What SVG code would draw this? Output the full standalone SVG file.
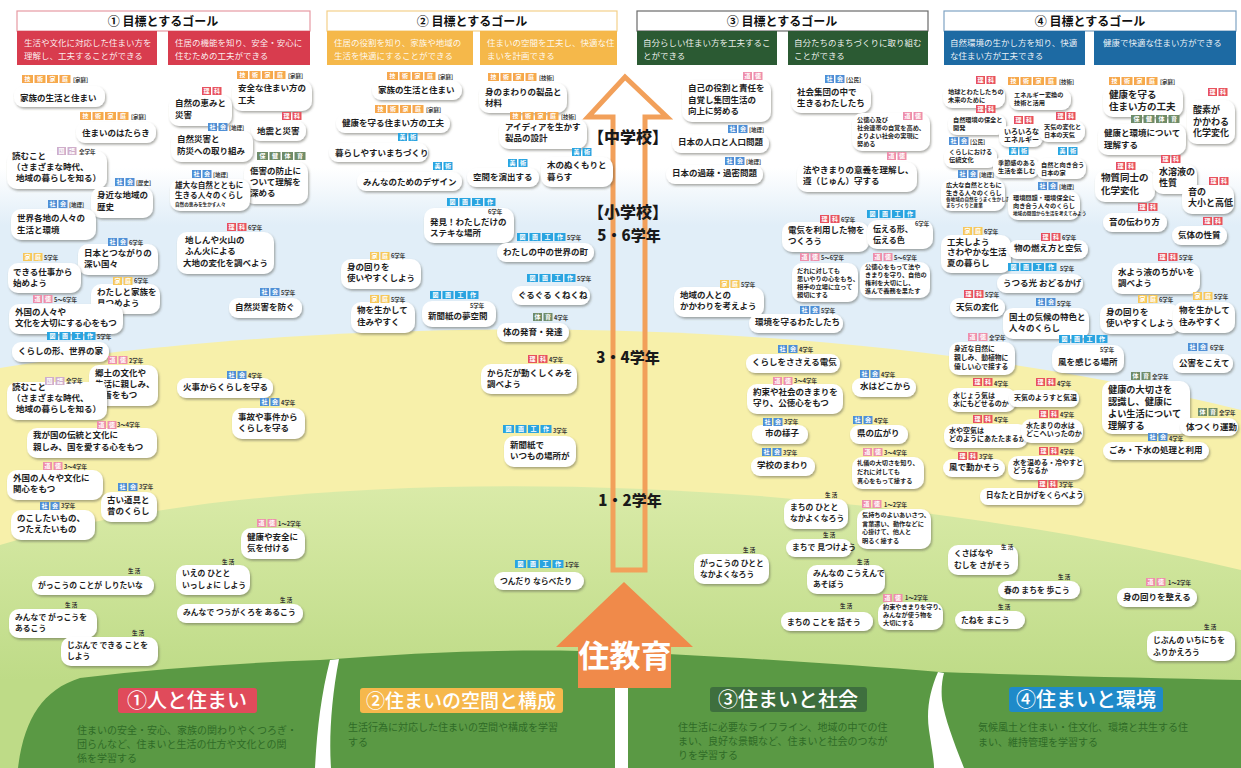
<svg xmlns="http://www.w3.org/2000/svg" width="1241" height="768" viewBox="0 0 1241 768">
<defs>
<style>
text{font-family:"Noto Sans CJK JP","Noto Sans CJK SC",sans-serif}
.c{fill:#fff;filter:url(#sh)}
.t{font-weight:700;font-size:8.5px;fill:#1e1e1e}
.e{font-weight:700;font-size:7.8px;fill:#1e1e1e}
.m{font-weight:700;font-size:6.2px;fill:#1e1e1e}
.m7{font-weight:700;font-size:7px;fill:#1e1e1e}
.x{font-weight:700;font-size:4.6px;fill:#1e1e1e}
.g{font-weight:700;font-size:5.5px;fill:#333}
.q{font-weight:700;font-size:6px;fill:#fff;text-anchor:middle}
.hd{font-weight:700;font-size:12px;fill:#111;text-anchor:middle}
.hb{font-size:8.5px;fill:#fff;fill-opacity:.92}
.gr{font-weight:900;font-size:16px;fill:#1a1a1a;text-anchor:middle}
.ds{font-size:10px;fill:#2f6b27}
.lb{font-weight:500;font-size:20px;fill:#fff;text-anchor:middle}
</style>
<filter id="sh" x="-15%" y="-25%" width="135%" height="170%"><feDropShadow dx="1.2" dy="1.8" stdDeviation="1.1" flood-color="#4a4a40" flood-opacity=".45"/></filter>
<linearGradient id="sky" x1="0" y1="168" x2="0" y2="225" gradientUnits="userSpaceOnUse"><stop offset="0" stop-color="#ffffff"/><stop offset="1" stop-color="#e1eef8"/></linearGradient>
<linearGradient id="lg" x1="0" y1="470" x2="0" y2="680" gradientUnits="userSpaceOnUse"><stop offset="0" stop-color="#dcecab"/><stop offset="1" stop-color="#bedb87"/></linearGradient>
<g id="ri2"><rect width="9" height="8" fill="#e8525e"/><rect x="10.5" width="9" height="8" fill="#e8525e"/><text class="q" x="4.5" y="6.3">理</text><text class="q" x="15" y="6.3">科</text></g>
<g id="sh2"><rect width="9" height="8" fill="#4f8fd6"/><rect x="10.5" width="9" height="8" fill="#4f8fd6"/><text class="q" x="4.5" y="6.3">社</text><text class="q" x="15" y="6.3">会</text></g>
<g id="zk2"><rect width="9" height="8" fill="#2aa4e0"/><rect x="10.5" width="9" height="8" fill="#2aa4e0"/><text class="q" x="4.5" y="6.3">美</text><text class="q" x="15" y="6.3">術</text></g>
<g id="dt2"><rect width="9" height="8" fill="#ee8fab"/><rect x="10.5" width="9" height="8" fill="#ee8fab"/><text class="q" x="4.5" y="6.3">道</text><text class="q" x="15" y="6.3">徳</text></g>
<g id="kk2"><rect width="9" height="8" fill="#cfaecb"/><rect x="10.5" width="9" height="8" fill="#cfaecb"/><text class="q" x="4.5" y="6.3">国</text><text class="q" x="15" y="6.3">語</text></g>
<g id="ka2"><rect width="9" height="8" fill="#f7c85a"/><rect x="10.5" width="9" height="8" fill="#f7c85a"/><text class="q" x="4.5" y="6.3">家</text><text class="q" x="15" y="6.3">庭</text></g>
<g id="hk2"><rect width="9" height="8" fill="#6f8c68"/><rect x="10.5" width="9" height="8" fill="#6f8c68"/><text class="q" x="4.5" y="6.3">体</text><text class="q" x="15" y="6.3">育</text></g>
<g id="gk4"><rect width="11" height="8" fill="#f6a84c"/><rect x="12.5" width="11" height="8" fill="#f6a84c"/><rect x="25" width="11" height="8" fill="#f6a84c"/><rect x="37.5" width="11" height="8" fill="#f6a84c"/><text class="q" x="5.5" y="6.3">技</text><text class="q" x="18" y="6.3">術</text><text class="q" x="30.5" y="6.3">家</text><text class="q" x="43" y="6.3">庭</text></g>
<g id="zk4"><rect width="11" height="8" fill="#2aa4e0"/><rect x="12.5" width="11" height="8" fill="#2aa4e0"/><rect x="25" width="11" height="8" fill="#2aa4e0"/><rect x="37.5" width="11" height="8" fill="#2aa4e0"/><text class="q" x="5.5" y="6.3">図</text><text class="q" x="18" y="6.3">画</text><text class="q" x="30.5" y="6.3">工</text><text class="q" x="43" y="6.3">作</text></g>
<g id="hk4"><rect width="11" height="8" fill="#6f8c68"/><rect x="12.5" width="11" height="8" fill="#6f8c68"/><rect x="25" width="11" height="8" fill="#6f8c68"/><rect x="37.5" width="11" height="8" fill="#6f8c68"/><text class="q" x="5.5" y="6.3">保</text><text class="q" x="18" y="6.3">健</text><text class="q" x="30.5" y="6.3">体</text><text class="q" x="43" y="6.3">育</text></g>
</defs>

<g id="background">
<rect width="1241" height="768" fill="url(#sky)"/>
<path d="M0,368 C300,320 800,300 1241,410 L1241,768 L0,768 Z" fill="#f7f0aa"/>
<path d="M0,545 C250,470 750,455 1241,570 L1241,768 L0,768 Z" fill="url(#lg)"/>
<path d="M18,768 C24,720 42,690 80,678 C160,668 240,663 320,660 C420,652 520,648 620,652 C720,656 840,664 940,672 C1050,676 1150,678 1241,680 L1241,768 Z" fill="#5a9944"/>
<path d="M330,660 L339,659 C331,700 329,740 331,768 L315,768 C317,730 321,695 330,660 Z" fill="#fff"/>
<rect x="615" y="686" width="13" height="82" fill="#fff"/>
<path d="M938,672 C930,690 926,710 929,730 C932,750 934,760 934,768 L964,768 C955,745 945,720 942,700 C941,690 942,680 944,673 Z" fill="#fff"/>
</g>

<g id="arrows">
<path d="M625,77 L667,117 L645,117 L645,570 L613,570 L613,117 L588,117 Z" fill="none" stroke="#f2a05a" stroke-width="5"/>
<path d="M624,582 L693,647 L671,647 L671,688 L578,688 L578,647 L556,647 Z" fill="#f08a4a"/>
<text x="625" y="667" style="font-weight:700;font-size:31px;fill:#fff;text-anchor:middle">住教育</text>
<text class="gr" x="628" y="143">【中学校】</text>
<text class="gr" x="628" y="218">【小学校】</text>
<text class="gr" x="629" y="241" style="font-size:15px">5・6学年</text>
<text class="gr" x="628" y="363" style="font-size:15px">3・4学年</text>
<text class="gr" x="630" y="506" style="font-size:15px">1・2学年</text>
</g>

<g id="goal1">
<rect x="17" y="11" width="293" height="20" fill="#fff" stroke="#e79aa3" stroke-width="1.2"/>
<text class="hd" x="163" y="26">① 目標とするゴール</text>
<rect x="17" y="31" width="140" height="34" fill="#d83c4e"/>
<rect x="168" y="31" width="142" height="34" fill="#d83c4e"/>
<text class="hb" x="24" y="46">生活や文化に対応した住まい方を<tspan x="24" y="59">理解し、工夫することができる</tspan></text>
<text class="hb" x="175" y="46">住居の機能を知り、安全・安心に<tspan x="175" y="59">住むための工夫ができる</tspan></text>
</g>
<g id="goal2">
<rect x="327" y="11" width="290" height="20" fill="#fff" stroke="#f3d08a" stroke-width="1.2"/>
<text class="hd" x="472" y="26">② 目標とするゴール</text>
<rect x="327" y="31" width="146" height="34" fill="#f5b84a"/>
<rect x="480" y="31" width="137" height="34" fill="#f5b84a"/>
<text class="hb" x="334" y="46">住居の役割を知り、家族や地域の<tspan x="334" y="59">生活を快適にすることができる</tspan></text>
<text class="hb" x="487" y="46">住まいの空間を工夫し、快適な住<tspan x="487" y="59">まいを計画できる</tspan></text>
</g>
<g id="goal3">
<rect x="637" y="11" width="291" height="20" fill="#fff" stroke="#6a6a6a" stroke-width="1.2"/>
<text class="hd" x="782" y="26">③ 目標とするゴール</text>
<rect x="637" y="31" width="140" height="34" fill="#2b5a33"/>
<rect x="788" y="31" width="140" height="34" fill="#2b5a33"/>
<text class="hb" x="643" y="46">自分らしい住まい方を工夫するこ<tspan x="643" y="59">とができる</tspan></text>
<text class="hb" x="794" y="46">自分たちのまちづくりに取り組む<tspan x="794" y="59">ことができる</tspan></text>
</g>
<g id="goal4">
<rect x="944" y="11" width="292" height="20" fill="#fff" stroke="#7fa3c4" stroke-width="1.2"/>
<text class="hd" x="1090" y="26">④ 目標とするゴール</text>
<rect x="944" y="31" width="141" height="34" fill="#1d6aa3"/>
<rect x="1094" y="31" width="142" height="34" fill="#1d6aa3"/>
<text class="hb" x="950" y="46">自然環境の生かし方を知り、快適<tspan x="950" y="59">な住まい方が工夫できる</tspan></text>
<text class="hb" x="1103" y="46">健康で快適な住まい方ができる</text>
</g>

<g id="cat1"><rect x="118" y="688" width="139" height="25" rx="3" fill="#e04b5b"/><text class="lb" x="187" y="708">①人と住まい</text><text class="ds" x="77" y="734">住まいの安全・安心、家族の関わりやくつろぎ・<tspan x="77" y="748">団らんなど、住まいと生活の仕方や文化との関</tspan><tspan x="77" y="762">係を学習する</tspan></text></g>
<g id="cat2"><rect x="360" y="688" width="203" height="25" rx="3" fill="#f6b84c"/><text class="lb" x="461" y="708" style="font-size:19px">②住まいの空間と構成</text><text class="ds" x="348" y="731">生活行為に対応した住まいの空間や構成を学習<tspan x="348" y="746">する</tspan></text></g>
<g id="cat3"><rect x="710" y="687" width="157" height="25" rx="3" fill="#3e6f3e"/><text class="lb" x="788" y="707">③住まいと社会</text><text class="ds" x="678" y="731">住生活に必要なライフライン、地域の中での住<tspan x="678" y="745">まい、良好な景観など、住まいと社会のつなが</tspan><tspan x="678" y="759">りを学習する</tspan></text></g>
<g id="cat4"><rect x="1009" y="687" width="154" height="25" rx="3" fill="#1f8ac9"/><text class="lb" x="1086" y="707">④住まいと環境</text><text class="ds" x="978" y="731">気候風土と住まい・住文化、環境と共生する住<tspan x="978" y="746">まい、維持管理を学習する</tspan></text></g>

<g id="nodes">
<g id="n1"><rect class="c" x="14" y="86" width="91" height="21" rx="9"/><use href="#gk4" x="22" y="75"/><text class="g" x="73" y="82">[家庭]</text><text class="t" x="20" y="101">家族の生活と住まい</text></g>
<g id="n2"><rect class="c" x="76" y="122" width="80" height="21" rx="9"/><use href="#gk4" x="80" y="112"/><text class="g" x="131" y="119">[家庭]</text><text class="t" x="82" y="136">住まいのはたらき</text></g>
<g id="n3"><rect class="c" x="7" y="151" width="100" height="38" rx="10"/><use href="#kk2" x="57" y="147"/><text class="g" x="79" y="154">全学年</text><text class="t" x="12" y="159">読むこと<tspan x="12" y="170">（さまざまな時代、</tspan><tspan x="16" y="181">地域の暮らしを知る）</tspan></text></g>
<g id="n4"><rect class="c" x="91" y="187" width="62" height="31" rx="10"/><use href="#sh2" x="115" y="178"/><text class="g" x="136" y="185">[歴史]</text><text class="t" x="97" y="198">身近な地域の<tspan x="97" y="210">歴史</tspan></text></g>
<g id="n5"><rect class="c" x="11" y="209" width="85" height="31" rx="10"/><use href="#sh2" x="48" y="200"/><text class="g" x="69" y="207">[地理]</text><text class="t" x="17" y="221">世界各地の人々の<tspan x="17" y="233">生活と環境</tspan></text></g>
<g id="n6"><rect class="c" x="78" y="244" width="80" height="31" rx="10"/><use href="#sh2" x="108" y="238"/><text class="g" x="129" y="245">6学年</text><text class="t" x="84" y="256">日本とつながりの<tspan x="84" y="267">深い国々</tspan></text></g>
<g id="n7"><rect class="c" x="232" y="80" width="80" height="31" rx="10"/><use href="#gk4" x="237" y="71"/><text class="g" x="288" y="78">[家庭]</text><text class="t" x="238" y="91">安全な住まい方の<tspan x="238" y="103">工夫</tspan></text></g>
<g id="n8"><rect class="c" x="169" y="95" width="63" height="31" rx="10"/><use href="#ri2" x="202" y="87"/><text class="t" x="175" y="106">自然の恵みと<tspan x="175" y="118">災害</tspan></text></g>
<g id="n9"><rect class="c" x="251" y="121" width="55" height="20" rx="9"/><use href="#ri2" x="282" y="112"/><text class="t" x="257" y="134">地震と災害</text></g>
<g id="n10"><rect class="c" x="171" y="131" width="82" height="31" rx="10"/><use href="#sh2" x="208" y="123"/><text class="g" x="229" y="130">[地理]</text><text class="t" x="177" y="142">自然災害と<tspan x="177" y="154">防災への取り組み</tspan></text></g>
<g id="n11"><rect class="c" x="244" y="162" width="64" height="42" rx="10"/><use href="#hk4" x="257" y="152"/><text class="t" x="250" y="174">傷害の防止に<tspan x="250" y="185">ついて理解を</tspan><tspan x="250" y="196">深める</tspan></text></g>
<g id="n12"><rect class="c" x="170" y="179" width="80" height="32" rx="10"/><use href="#sh2" x="192" y="170"/><text class="g" x="213" y="177">[地理]</text><text class="t" style="font-size:7.6px" x="175" y="188">雄大な自然とともに<tspan x="175" y="198">生きる人々のくらし</tspan></text><text class="x" x="175" y="206">自然の恵みを生かす人々</text></g>
<g id="n13"><rect class="c" x="177" y="232" width="97" height="42" rx="10"/><use href="#ri2" x="227" y="223"/><text class="g" x="248" y="230">6学年</text><text class="t" x="185" y="243">地しんや火山の<tspan x="185" y="254">ふん火による</tspan><tspan x="183" y="266">大地の変化を調べよう</tspan></text></g>
<g id="n14"><rect class="c" x="8" y="263" width="73" height="30" rx="10"/><use href="#ka2" x="23" y="253"/><text class="g" x="44" y="260">5学年</text><text class="t" x="13" y="275">できる仕事から<tspan x="13" y="286">始めよう</tspan></text></g>
<g id="n15"><rect class="c" x="91" y="284" width="69" height="30" rx="10"/><use href="#ka2" x="113" y="277"/><text class="g" x="134" y="283">6学年</text><text class="t" x="97" y="295">わたしと家族を<tspan x="97" y="306">見つめよう</tspan></text></g>
<g id="n16"><rect class="c" x="9" y="304" width="114" height="30" rx="10"/><use href="#dt2" x="33" y="295"/><text class="g" x="54" y="302">5～6学年</text><text class="t" x="15" y="315">外国の人々や<tspan x="15" y="326">文化を大切にする心をもつ</tspan></text></g>
<g id="n17"><rect class="c" x="12" y="342" width="97" height="20" rx="9"/><use href="#zk4" x="47" y="332"/><text class="g" x="97" y="339">5学年</text><text class="t" x="18" y="354">くらしの形、世界の家</text></g>
<g id="n18"><rect class="c" x="89" y="365" width="69" height="41" rx="10"/><use href="#dt2" x="108" y="356"/><text class="g" x="129" y="363">2学年</text><text class="t" x="95" y="376">郷土の文化や<tspan x="95" y="387">生活に親しみ、</tspan><tspan x="95" y="398">愛着をもつ</tspan></text></g>
<g id="n19"><rect class="c" x="7" y="382" width="100" height="38" rx="10"/><use href="#kk2" x="45" y="377"/><text class="g" x="66" y="383">全学年</text><text class="t" x="12" y="390">読むこと<tspan x="12" y="401">（さまざまな時代、</tspan><tspan x="16" y="412">地域の暮らしを知る）</tspan></text></g>
<g id="n20"><rect class="c" x="27" y="428" width="130" height="30" rx="10"/><use href="#dt2" x="97" y="421"/><text class="g" x="117" y="427">3～4学年</text><text class="t" x="33" y="438">我が国の伝統と文化に<tspan x="33" y="450">親しみ、国を愛する心をもつ</tspan></text></g>
<g id="n21"><rect class="c" x="7" y="470" width="96" height="30" rx="10"/><use href="#dt2" x="43" y="462"/><text class="g" x="64" y="469">3～4学年</text><text class="t" x="13" y="481">外国の人々や文化に<tspan x="13" y="492">関心をもつ</tspan></text></g>
<g id="n22"><rect class="c" x="101" y="492" width="56" height="30" rx="10"/><use href="#sh2" x="118" y="483"/><text class="g" x="139" y="489">3学年</text><text class="t" x="107" y="503">古い道具と<tspan x="107" y="514">昔のくらし</tspan></text></g>
<g id="n23"><rect class="c" x="11" y="510" width="84" height="30" rx="10"/><use href="#sh2" x="40" y="502"/><text class="g" x="61" y="508">3学年</text><text class="t" x="17" y="521">のこしたいもの、<tspan x="17" y="532">つたえたいもの</tspan></text></g>
<g id="n24"><rect class="c" x="229" y="298" width="73" height="20" rx="9"/><use href="#sh2" x="260" y="288"/><text class="g" x="281" y="295">5学年</text><text class="t" x="235" y="310">自然災害を防ぐ</text></g>
<g id="n25"><rect class="c" x="177" y="378" width="96" height="20" rx="9"/><use href="#sh2" x="227" y="371"/><text class="g" x="248" y="378">4学年</text><text class="t" x="183" y="390">火事からくらしを守る</text></g>
<g id="n26"><rect class="c" x="232" y="408" width="73" height="31" rx="10"/><use href="#sh2" x="260" y="398"/><text class="g" x="281" y="405">4学年</text><text class="t" x="238" y="420">事故や事件から<tspan x="238" y="431">くらしを守る</tspan></text></g>
<g id="n27"><rect class="c" x="241" y="528" width="64" height="31" rx="10"/><use href="#dt2" x="257" y="519"/><text class="g" x="278" y="526">1～2学年</text><text class="t" x="247" y="540">健康や安全に<tspan x="247" y="551">気を付ける</tspan></text></g>
<g id="n28"><rect class="c" x="32" y="576" width="122" height="19" rx="9"/><text class="g" x="128" y="573">生 活</text><text class="e" x="38" y="588">がっこうの ことが しりたいな</text></g>
<g id="n29"><rect class="c" x="176" y="565" width="74" height="30" rx="10"/><text class="g" x="222" y="564">生 活</text><text class="e" x="182" y="576">いえの ひとと<tspan x="182" y="588">いっしょに しよう</tspan></text></g>
<g id="n30"><rect class="c" x="9" y="609" width="88" height="29" rx="10"/><text class="g" x="65" y="607">生 活</text><text class="e" x="15" y="620">みんなで がっこうを<tspan x="15" y="631">あるこう</tspan></text></g>
<g id="n31"><rect class="c" x="177" y="604" width="126" height="19" rx="9"/><text class="g" x="280" y="602">生 活</text><text class="e" x="183" y="615">みんなで つうがくろを あるこう</text></g>
<g id="n32"><rect class="c" x="61" y="637" width="97" height="29" rx="10"/><text class="g" x="132" y="635">生 活</text><text class="e" x="67" y="648">じぶんで できる ことを<tspan x="67" y="659">しよう</tspan></text></g>
<g id="n33"><rect class="c" x="494" y="572" width="90" height="18" rx="9"/><use href="#zk4" x="515" y="560"/><text class="g" x="565" y="567">1学年</text><text class="e" x="500" y="584">つんだり ならべたり</text></g>
<g id="n34"><rect class="c" x="784" y="499" width="64" height="30" rx="10"/><text class="g" x="825" y="497">生 活</text><text class="e" x="790" y="510">まちの ひとと<tspan x="790" y="521">なかよくなろう</tspan></text></g>
<g id="n35"><rect class="c" x="857" y="509" width="74" height="40" rx="10"/><use href="#dt2" x="862" y="500"/><text class="g" x="884" y="507">1～2学年</text><text class="m" x="862" y="517">気持ちのよいあいさつ、<tspan x="862" y="526">言葉遣い、動作などに</tspan><tspan x="862" y="534">心掛けて、他人と</tspan><tspan x="862" y="543">明るく接する</tspan></text></g>
<g id="n36"><rect class="c" x="786" y="539" width="66" height="18" rx="9"/><text class="g" x="823" y="537">生 活</text><text class="e" x="792" y="550">まちで 見つけよう</text></g>
<g id="n37"><rect class="c" x="694" y="554" width="75" height="30" rx="10"/><text class="g" x="743" y="552">生 活</text><text class="e" x="700" y="566">がっこうの ひとと<tspan x="700" y="577">なかよくなろう</tspan></text></g>
<g id="n38"><rect class="c" x="807" y="565" width="78" height="29" rx="10"/><text class="g" x="857" y="564">生 活</text><text class="e" x="813" y="576">みんなの こうえんで<tspan x="813" y="587">あそぼう</tspan></text></g>
<g id="n39"><rect class="c" x="878" y="602" width="65" height="28" rx="10"/><use href="#dt2" x="883" y="594"/><text class="g" x="905" y="600">1～2学年</text><text class="m" x="883" y="609">約束やきまりを守り、<tspan x="883" y="617">みんなが使う物を</tspan><tspan x="883" y="625">大切にする</tspan></text></g>
<g id="n40"><rect class="c" x="781" y="612" width="92" height="19" rx="9"/><text class="g" x="840" y="608">生 活</text><text class="e" x="787" y="625">まちの ことを 話そう</text></g>
<g id="n41"><rect class="c" x="948" y="545" width="70" height="30" rx="10"/><text class="g" x="1001" y="549">生 活</text><text class="e" x="954" y="556">くさばなや<tspan x="954" y="568">むしを さがそう</tspan></text></g>
<g id="n42"><rect class="c" x="998" y="581" width="82" height="18" rx="9"/><text class="g" x="1058" y="579">生 活</text><text class="e" x="1004" y="593">春の まちを 歩こう</text></g>
<g id="n43"><rect class="c" x="955" y="611" width="70" height="18" rx="9"/><text class="g" x="998" y="609">生 活</text><text class="e" x="961" y="623">たねを まこう</text></g>
<g id="n44"><rect class="c" x="1117" y="588" width="80" height="19" rx="9"/><use href="#dt2" x="1146" y="578"/><text class="g" x="1168" y="585">1～2学年</text><text class="t" x="1123" y="600">身の回りを整える</text></g>
<g id="n45"><rect class="c" x="1147" y="631" width="88" height="30" rx="10"/><text class="g" x="1204" y="629">生 活</text><text class="e" x="1153" y="643">じぶんの いちにちを<tspan x="1153" y="655">ふりかえろう</tspan></text></g>

<g id="n46"><rect class="c" x="372" y="81" width="90" height="19" rx="9"/><use href="#gk4" x="387" y="72"/><text class="g" x="438" y="79">[家庭]</text><text class="t" x="378" y="93">家族の生活と住まい</text></g>
<g id="n47"><rect class="c" x="336" y="114" width="114" height="19" rx="9"/><use href="#gk4" x="375" y="105"/><text class="g" x="426" y="112">[家庭]</text><text class="t" x="342" y="126">健康を守る住まい方の工夫</text></g>
<g id="n48"><rect class="c" x="329" y="143" width="99" height="19" rx="9"/><use href="#zk2" x="398" y="133"/><text class="t" x="335" y="156">暮らしやすいまちづくり</text></g>
<g id="n49"><rect class="c" x="357" y="172" width="105" height="19" rx="9"/><use href="#zk2" x="433" y="162"/><text class="t" x="363" y="185">みんなのためのデザイン</text></g>
<g id="n50"><rect class="c" x="479" y="83" width="88" height="30" rx="10"/><use href="#gk4" x="488" y="73"/><text class="g" x="539" y="80">[技術]</text><text class="t" x="485" y="95">身のまわりの製品と<tspan x="485" y="106">材料</tspan></text></g>
<g id="n51"><rect class="c" x="499" y="119" width="88" height="30" rx="10"/><use href="#gk4" x="510" y="112"/><text class="g" x="561" y="119">[技術]</text><text class="t" x="505" y="130">アイディアを生かす<tspan x="505" y="141">製品の設計</tspan></text></g>
<g id="n52"><rect class="c" x="467" y="168" width="72" height="19" rx="9"/><use href="#zk2" x="508" y="159"/><text class="t" x="473" y="180">空間を演出する</text></g>
<g id="n53"><rect class="c" x="541" y="157" width="72" height="30" rx="10"/><use href="#zk2" x="572" y="148"/><text class="t" x="547" y="168">木のぬくもりと<tspan x="547" y="180">暮らす</tspan></text></g>
<g id="n54"><rect class="c" x="424" y="208" width="90" height="35" rx="10"/><use href="#zk4" x="447" y="198"/><text class="g" x="488" y="214">6学年</text><text class="t" x="430" y="225">発見！わたしだけの<tspan x="430" y="236">ステキな場所</tspan></text></g>
<g id="n55"><rect class="c" x="497" y="243" width="97" height="19" rx="9"/><use href="#zk4" x="517" y="233"/><text class="g" x="567" y="240">5学年</text><text class="t" x="503" y="255">わたしの中の世界の町</text></g>
<g id="n56"><rect class="c" x="341" y="259" width="80" height="30" rx="10"/><use href="#ka2" x="370" y="252"/><text class="g" x="391" y="258">6学年</text><text class="t" x="347" y="270">身の回りを<tspan x="347" y="281">使いやすくしよう</tspan></text></g>
<g id="n57"><rect class="c" x="351" y="302" width="64" height="31" rx="10"/><use href="#ka2" x="370" y="295"/><text class="g" x="391" y="302">5学年</text><text class="t" x="357" y="313">物を生かして<tspan x="357" y="325">住みやすく</tspan></text></g>
<g id="n58"><rect class="c" x="422" y="301" width="74" height="26" rx="10"/><use href="#zk4" x="430" y="291"/><text class="g" x="470" y="308">5学年</text><text class="t" x="428" y="319">新聞紙の夢空間</text></g>
<g id="n59"><rect class="c" x="512" y="286" width="78" height="19" rx="9"/><use href="#zk4" x="527" y="274"/><text class="g" x="577" y="281">5学年</text><text class="t" x="518" y="298">ぐるぐる くねくね</text></g>
<g id="n60"><rect class="c" x="497" y="323" width="72" height="19" rx="9"/><use href="#hk2" x="533" y="313"/><text class="g" x="554" y="320">4学年</text><text class="t" x="503" y="335">体の発育・発達</text></g>
<g id="n61"><rect class="c" x="481" y="364" width="96" height="30" rx="10"/><use href="#ri2" x="528" y="355"/><text class="g" x="549" y="362">4学年</text><text class="t" x="487" y="376">からだが動くしくみを<tspan x="487" y="387">調べよう</tspan></text></g>
<g id="n62"><rect class="c" x="504" y="436" width="72" height="31" rx="10"/><use href="#zk4" x="503" y="425"/><text class="g" x="553" y="433">3学年</text><text class="t" x="510" y="448">新聞紙で<tspan x="510" y="459">いつもの場所が</tspan></text></g>

<g id="n63"><rect class="c" x="682" y="80" width="89" height="42" rx="10"/><use href="#dt2" x="743" y="72"/><text class="t" x="688" y="91">自己の役割と責任を<tspan x="688" y="103">自覚し集団生活の</tspan><tspan x="688" y="114">向上に努める</tspan></text></g>
<g id="n64"><rect class="c" x="791" y="84" width="80" height="29" rx="10"/><use href="#sh2" x="825" y="75"/><text class="g" x="846" y="82">[公民]</text><text class="t" x="797" y="95">社会集団の中で<tspan x="797" y="106">生きるわたしたち</tspan></text></g>
<g id="n65"><rect class="c" x="852" y="113" width="78" height="38" rx="10"/><use href="#dt2" x="903" y="112"/><text class="m" x="857" y="122">公徳心及び<tspan x="857" y="130">社会連帯の自覚を高め、</tspan><tspan x="857" y="138">よりよい社会の実現に</tspan><tspan x="857" y="146">努める</tspan></text></g>
<g id="n66"><rect class="c" x="672" y="134" width="97" height="19" rx="9"/><use href="#sh2" x="728" y="125"/><text class="g" x="749" y="132">[地理]</text><text class="t" x="678" y="145">日本の人口と人口問題</text></g>
<g id="n67"><rect class="c" x="666" y="165" width="97" height="19" rx="9"/><use href="#sh2" x="725" y="157"/><text class="g" x="746" y="164">[地理]</text><text class="t" x="672" y="176">日本の過疎・過密問題</text></g>
<g id="n68"><rect class="c" x="797" y="162" width="120" height="30" rx="10"/><use href="#dt2" x="887" y="152"/><text class="t" x="803" y="173">法やきまりの意義を理解し、<tspan x="803" y="184">遵（じゅん）守する</tspan></text></g>
<g id="n69"><rect class="c" x="782" y="222" width="87" height="30" rx="10"/><use href="#ri2" x="820" y="215"/><text class="g" x="841" y="222">6学年</text><text class="t" x="788" y="233">電気を利用した物を<tspan x="788" y="244">つくろう</tspan></text></g>
<g id="n70"><rect class="c" x="867" y="220" width="66" height="29" rx="10"/><use href="#zk4" x="867" y="210"/><text class="g" x="915" y="226">6学年</text><text class="t" style="font-size:8px" x="873" y="232">伝える形、<tspan x="873" y="243">伝える色</tspan></text></g>
<g id="n71"><rect class="c" x="792" y="263" width="66" height="39" rx="10"/><use href="#dt2" x="800" y="253"/><text class="g" x="821" y="260">5～6学年</text><text class="m" x="797" y="273">だれに対しても<tspan x="797" y="281">思いやりの心をもち、</tspan><tspan x="797" y="289">相手の立場に立って</tspan><tspan x="797" y="297">親切にする</tspan></text></g>
<g id="n72"><rect class="c" x="860" y="262" width="70" height="36" rx="10"/><use href="#dt2" x="873" y="253"/><text class="g" x="894" y="260">5～6学年</text><text class="m" x="865" y="269">公徳心をもって法や<tspan x="865" y="277">きまりを守り、自他の</tspan><tspan x="865" y="285">権利を大切にし、</tspan><tspan x="865" y="293">進んで義務を果たす</tspan></text></g>
<g id="n73"><rect class="c" x="674" y="287" width="90" height="30" rx="10"/><use href="#ka2" x="720" y="280"/><text class="g" x="741" y="287">5学年</text><text class="t" x="680" y="298">地域の人との<tspan x="680" y="309">かかわりを考えよう</tspan></text></g>
<g id="n74"><rect class="c" x="749" y="314" width="94" height="19" rx="9"/><use href="#sh2" x="800" y="306"/><text class="g" x="821" y="313">5学年</text><text class="t" x="755" y="325">環境を守るわたしたち</text></g>
<g id="n75"><rect class="c" x="746" y="354" width="94" height="19" rx="9"/><use href="#sh2" x="778" y="345"/><text class="g" x="799" y="352">4学年</text><text class="t" x="752" y="365">くらしをささえる電気</text></g>
<g id="n76"><rect class="c" x="747" y="384" width="96" height="30" rx="10"/><use href="#dt2" x="773" y="377"/><text class="g" x="794" y="383">3～4学年</text><text class="t" x="753" y="395">約束や社会のきまりを<tspan x="753" y="406">守り、公徳心をもつ</tspan></text></g>
<g id="n77"><rect class="c" x="752" y="425" width="56" height="19" rx="9"/><use href="#sh2" x="763" y="418"/><text class="g" x="784" y="424">3学年</text><text class="t" x="765" y="436">市の様子</text></g>
<g id="n78"><rect class="c" x="751" y="457" width="64" height="19" rx="9"/><use href="#sh2" x="762" y="448"/><text class="g" x="783" y="455">3学年</text><text class="t" x="757" y="468">学校のまわり</text></g>
<g id="n79"><rect class="c" x="852" y="378" width="64" height="19" rx="9"/><use href="#sh2" x="860" y="370"/><text class="g" x="881" y="377">4学年</text><text class="t" x="860" y="389">水はどこから</text></g>
<g id="n80"><rect class="c" x="850" y="425" width="58" height="19" rx="9"/><use href="#sh2" x="853" y="416"/><text class="g" x="874" y="423">4学年</text><text class="t" x="857" y="436">県の広がり</text></g>
<g id="n81"><rect class="c" x="852" y="457" width="72" height="32" rx="10"/><use href="#dt2" x="863" y="448"/><text class="g" x="884" y="455">3～4学年</text><text class="m" x="857" y="465">礼儀の大切さを知り、<tspan x="857" y="474">だれに対しても</tspan><tspan x="857" y="483">真心をもって接する</tspan></text></g>

<g id="n82"><rect class="c" x="943" y="86" width="62" height="22" rx="9"/><use href="#ri2" x="976" y="76"/><text class="m" x="948" y="94">地球とわたしたちの<tspan x="948" y="102">未来のために</tspan></text></g>
<g id="n83"><rect class="c" x="1009" y="89" width="62" height="21" rx="9"/><use href="#gk4" x="1008" y="77"/><text class="g" x="1059" y="84">[技術]</text><text class="m" x="1014" y="97">エネルギー変換の<tspan x="1014" y="105">技術と活用</tspan></text></g>
<g id="n84"><rect class="c" x="948" y="114" width="58" height="21" rx="9"/><use href="#ri2" x="976" y="105"/><text class="m" x="953" y="122">自然環境の保全と<tspan x="953" y="130">開発</tspan></text></g>
<g id="n85"><rect class="c" x="999" y="126" width="44" height="21" rx="9"/><use href="#ri2" x="1014" y="116"/><text class="m7" x="1004" y="134">いろいろな<tspan x="1004" y="142">エネルギー</tspan></text></g>
<g id="n86"><rect class="c" x="1039" y="121" width="46" height="21" rx="9"/><use href="#ri2" x="1056" y="112"/><text class="m" x="1044" y="129">天気の変化と<tspan x="1044" y="137">日本の天気</tspan></text></g>
<g id="n87"><rect class="c" x="944" y="147" width="53" height="21" rx="9"/><use href="#sh2" x="949" y="137"/><text class="g" x="970" y="144">[公民]</text><text class="m" x="949" y="154">くらしにおける<tspan x="949" y="162">伝統文化</tspan></text></g>
<g id="n88"><rect class="c" x="993" y="157" width="46" height="21" rx="9"/><use href="#zk2" x="1009" y="147"/><text class="m" x="998" y="165">季節感のある<tspan x="998" y="173">生活を楽しむ</tspan></text></g>
<g id="n89"><rect class="c" x="1036" y="158" width="50" height="21" rx="9"/><use href="#zk2" x="1058" y="147"/><text class="m" x="1041" y="167">自然と向き合う<tspan x="1041" y="175">日本の家</tspan></text></g>
<g id="n90"><rect class="c" x="941" y="179" width="64" height="32" rx="10"/><use href="#sh2" x="958" y="170"/><text class="g" x="979" y="177">[地理]</text><text class="m" x="946" y="187">広大な自然とともに<tspan x="946" y="195">生きる人々のくらし</tspan></text><text class="x" x="946" y="201">各地域の自然をうまく生かした<tspan x="946" y="207">まちづくりと産業</tspan></text></g>
<g id="n91"><rect class="c" x="1008" y="191" width="72" height="29" rx="10"/><use href="#sh2" x="1038" y="182"/><text class="g" x="1059" y="189">[地理]</text><text class="m" x="1013" y="200">環境問題・環境保全に<tspan x="1013" y="208">向き合う人々のくらし</tspan></text><text class="x" x="1013" y="215">地域の問題から生活を考えてみよう</text></g>
<g id="n92"><rect class="c" x="941" y="235" width="70" height="38" rx="10"/><use href="#ka2" x="963" y="227"/><text class="g" x="984" y="234">6学年</text><text class="t" x="947" y="245">工夫しよう<tspan x="947" y="255">さわやかな生活</tspan><tspan x="947" y="266">夏の暮らし</tspan></text></g>
<g id="n93"><rect class="c" x="1008" y="240" width="80" height="19" rx="9"/><use href="#ri2" x="1041" y="233"/><text class="g" x="1062" y="240">6学年</text><text class="t" x="1014" y="251">物の燃え方と空気</text></g>
<g id="n94"><rect class="c" x="1103" y="86" width="80" height="31" rx="10"/><use href="#gk4" x="1109" y="77"/><text class="g" x="1160" y="84">[家庭]</text><text class="t" style="font-size:9.5px" x="1109" y="98">健康を守る<tspan x="1109" y="110">住まい方の工夫</tspan></text></g>
<g id="n95"><rect class="c" x="1187" y="100" width="48" height="44" rx="10"/><use href="#ri2" x="1208" y="88"/><text class="t" style="font-size:9px" x="1193" y="113">酸素が<tspan x="1193" y="125">かかわる</tspan><tspan x="1193" y="136">化学変化</tspan></text></g>
<g id="n96"><rect class="c" x="1098" y="124" width="88" height="31" rx="10"/><use href="#hk4" x="1131" y="115"/><text class="t" x="1104" y="136">健康と環境について<tspan x="1104" y="148">理解する</tspan></text></g>
<g id="n97"><rect class="c" x="1095" y="170" width="60" height="32" rx="10"/><use href="#ri2" x="1116" y="162"/><text class="t" style="font-size:9.5px" x="1101" y="181">物質同士の<tspan x="1101" y="194">化学変化</tspan></text></g>
<g id="n98"><rect class="c" x="1153" y="164" width="44" height="30" rx="10"/><use href="#ri2" x="1161" y="155"/><text class="t" style="font-size:9px" x="1159" y="175">水溶液の<tspan x="1159" y="186">性質</tspan></text></g>
<g id="n99"><rect class="c" x="1182" y="185" width="52" height="29" rx="10"/><use href="#ri2" x="1209" y="177"/><text class="t" style="font-size:9px" x="1188" y="195">音の<tspan x="1188" y="206">大小と高低</tspan></text></g>
<g id="n100"><rect class="c" x="1103" y="213" width="64" height="19" rx="9"/><use href="#ri2" x="1138" y="203"/><text class="t" x="1109" y="225">音の伝わり方</text></g>
<g id="n101"><rect class="c" x="1172" y="226" width="55" height="19" rx="9"/><use href="#ri2" x="1203" y="217"/><text class="t" x="1178" y="238">気体の性質</text></g>
<g id="n102"><rect class="c" x="997" y="274" width="86" height="19" rx="9"/><use href="#zk4" x="1008" y="263"/><text class="g" x="1060" y="271">5学年</text><text class="t" x="1003" y="286">うつる光 おどるかげ</text></g>
<g id="n103"><rect class="c" x="950" y="298" width="55" height="19" rx="9"/><use href="#ri2" x="964" y="290"/><text class="g" x="985" y="297">5学年</text><text class="t" x="956" y="310">天気の変化</text></g>
<g id="n104"><rect class="c" x="1003" y="308" width="86" height="31" rx="10"/><use href="#sh2" x="1036" y="298"/><text class="g" x="1057" y="306">5学年</text><text class="t" x="1009" y="320">国土の気候の特色と<tspan x="1009" y="331">人々のくらし</tspan></text></g>
<g id="n105"><rect class="c" x="1112" y="263" width="88" height="31" rx="10"/><use href="#ri2" x="1158" y="253"/><text class="g" x="1179" y="260">5学年</text><text class="t" x="1118" y="275">水よう液のちがいを<tspan x="1118" y="286">調べよう</tspan></text></g>
<g id="n106"><rect class="c" x="1100" y="304" width="80" height="30" rx="10"/><use href="#ka2" x="1138" y="295"/><text class="g" x="1159" y="302">6学年</text><text class="t" x="1106" y="315">身の回りを<tspan x="1106" y="326">使いやすくしよう</tspan></text></g>
<g id="n107"><rect class="c" x="1173" y="302" width="62" height="31" rx="10"/><use href="#ka2" x="1193" y="292"/><text class="g" x="1214" y="299">5学年</text><text class="t" x="1179" y="313">物を生かして<tspan x="1179" y="325">住みやすく</tspan></text></g>
<g id="n108"><rect class="c" x="1052" y="345" width="72" height="28" rx="10"/><use href="#zk4" x="1059" y="335"/><text class="g" x="1100" y="352">5学年</text><text class="t" x="1058" y="365">風を感じる場所</text></g>
<g id="n109"><rect class="c" x="1173" y="354" width="60" height="19" rx="9"/><use href="#sh2" x="1188" y="343"/><text class="g" x="1210" y="350">6学年</text><text class="t" x="1179" y="366">公害をこえて</text></g>
<g id="n110"><rect class="c" x="949" y="342" width="66" height="33" rx="10"/><use href="#dt2" x="968" y="333"/><text class="g" x="989" y="340">全学年</text><text class="m" style="font-size:6.8px" x="954" y="351">身近な自然に<tspan x="954" y="360">親しみ、動植物に</tspan><tspan x="954" y="369">優しい心で接する</tspan></text></g>
<g id="n111"><rect class="c" x="948" y="388" width="68" height="24" rx="10"/><use href="#ri2" x="973" y="378"/><text class="g" x="994" y="386">4学年</text><text class="m7" x="953" y="398">水じょう気は<tspan x="953" y="406">水にもどせるのか</tspan></text></g>
<g id="n112"><rect class="c" x="1009" y="390" width="70" height="17" rx="8"/><use href="#ri2" x="1036" y="378"/><text class="g" x="1057" y="386">4学年</text><text class="m7" x="1014" y="400">天気のようすと気温</text></g>
<g id="n113"><rect class="c" x="944" y="424" width="84" height="24" rx="10"/><use href="#ri2" x="973" y="415"/><text class="g" x="994" y="422">4学年</text><text class="m7" x="949" y="433">水や空気は<tspan x="949" y="441">どのようにあたたまるか</tspan></text></g>
<g id="n114"><rect class="c" x="1021" y="419" width="62" height="24" rx="10"/><use href="#ri2" x="1039" y="410"/><text class="g" x="1060" y="417">4学年</text><text class="m7" x="1026" y="428">水たまりの水は<tspan x="1026" y="436">どこへいったのか</tspan></text></g>
<g id="n115"><rect class="c" x="943" y="459" width="62" height="18" rx="9"/><use href="#ri2" x="958" y="452"/><text class="g" x="979" y="459">3学年</text><text class="t" x="949" y="470">風で動かそう</text></g>
<g id="n116"><rect class="c" x="1008" y="456" width="76" height="24" rx="10"/><use href="#ri2" x="1039" y="447"/><text class="g" x="1060" y="454">4学年</text><text class="m7" x="1013" y="465">水を温める・冷やすと<tspan x="1013" y="473">どうなるか</tspan></text></g>
<g id="n117"><rect class="c" x="980" y="488" width="104" height="17" rx="8"/><use href="#ri2" x="1038" y="480"/><text class="g" x="1059" y="487">3学年</text><text class="t" style="font-size:7.5px" x="986" y="498">日なたと日かげをくらべよう</text></g>
<g id="n118"><rect class="c" x="1102" y="381" width="88" height="53" rx="10"/><use href="#hk2" x="1131" y="372"/><text class="g" x="1152" y="379">全学年</text><text class="t" style="font-size:9.2px" x="1108" y="393">健康の大切さを<tspan x="1108" y="405">認識し、健康に</tspan><tspan x="1108" y="417">よい生活について</tspan><tspan x="1108" y="429">理解する</tspan></text></g>
<g id="n119"><rect class="c" x="1180" y="418" width="58" height="18" rx="9"/><use href="#hk2" x="1198" y="408"/><text class="g" x="1219" y="415">全学年</text><text class="t" x="1186" y="430">体つくり運動</text></g>
<g id="n120"><rect class="c" x="1103" y="442" width="106" height="18" rx="9"/><use href="#sh2" x="1148" y="433"/><text class="g" x="1169" y="441">4学年</text><text class="t" x="1109" y="453">ごみ・下水の処理と利用</text></g>
</g>
</svg>
